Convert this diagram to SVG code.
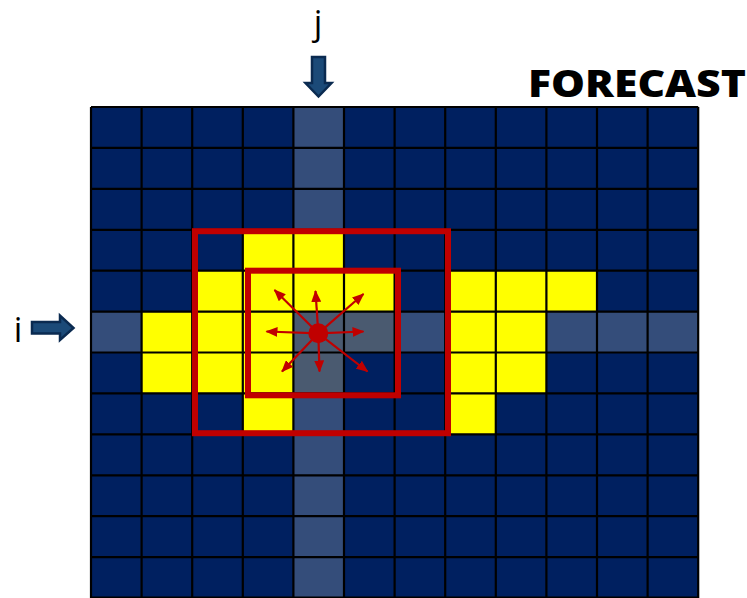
<svg xmlns="http://www.w3.org/2000/svg" width="747" height="598" viewBox="0 0 747 598">
<style>
.nv{fill:#002060}
.hl{fill:#344D7A}
.gr{fill:#4A5A70}
.yl{fill:#FFFF00}
.lbl{font-family:"Open Sans","Liberation Sans",sans-serif;font-size:34px;fill:#000}
.ttl{font-family:"Open Sans","Liberation Sans",sans-serif;font-weight:800;font-size:37px;fill:#000}
.box{fill:none;stroke:#C00000;stroke-width:6}
.ray{stroke:#C00000;stroke-width:2.2;fill:none;marker-end:url(#ah)}
.barr{fill:#1B4A78;stroke:#0A2A50;stroke-width:2.5;stroke-linejoin:miter}
</style>
<defs>
<marker id="ah" viewBox="0 0 12 10" refX="11" refY="5" markerWidth="12" markerHeight="10" markerUnits="userSpaceOnUse" orient="auto">
<path d="M0,0 L12,5 L0,10 Z" fill="#C00000"/>
</marker>
</defs>
<rect width="747" height="598" fill="#fff"/>
<g id="grid">
<rect class="nv" x="91" y="107" width="607.2" height="491"/>
<rect class="hl" x="293.4" y="107" width="50.6" height="122.8"/>
<rect class="hl" x="293.4" y="393.4" width="50.6" height="204.6"/>
<rect class="hl" x="91" y="311.6" width="50.6" height="40.9"/>
<rect class="hl" x="394.6" y="311.6" width="50.6" height="40.9"/>
<rect class="hl" x="546.4" y="311.6" width="151.8" height="40.9"/>
<rect class="gr" x="293.4" y="311.6" width="101.2" height="40.9"/>
<rect class="gr" x="293.4" y="352.5" width="50.6" height="40.9"/>
<rect class="yl" x="242.8" y="229.8" width="101.2" height="40.9"/>
<rect class="yl" x="192.2" y="270.7" width="202.4" height="40.9"/>
<rect class="yl" x="445.2" y="270.7" width="151.8" height="40.9"/>
<rect class="yl" x="141.6" y="311.6" width="151.8" height="81.8"/>
<rect class="yl" x="445.2" y="311.6" width="101.2" height="81.8"/>
<rect class="yl" x="242.8" y="393.4" width="50.6" height="41"/>
<rect class="yl" x="445.2" y="393.4" width="50.6" height="41"/>
<path stroke="#000" stroke-width="2.2" fill="none" d="M91,107V598M141.6,107V598M192.2,107V598M242.8,107V598M293.4,107V598M344,107V598M394.6,107V598M445.2,107V598M495.8,107V598M546.4,107V598M597,107V598M647.6,107V598M698.2,107V598M91,107H698.2M91,147.9H698.2M91,188.8H698.2M91,229.8H698.2M91,270.7H698.2M91,311.6H698.2M91,352.5H698.2M91,393.4H698.2M91,434.4H698.2M91,475.3H698.2M91,516.2H698.2M91,557.1H698.2M91,597.5H698.2"/>
</g>
<g id="outer-window"><rect class="box" x="195" y="231.2" width="253" height="202"/></g>
<g id="inner-window"><rect class="box" x="248" y="270.7" width="150" height="124.6"/></g>
<g id="connectors">
<line class="ray" x1="318.3" y1="333.3" x2="315.5" y2="291"/>
<line class="ray" x1="318.3" y1="333.3" x2="274.5" y2="290"/>
<line class="ray" x1="318.3" y1="333.3" x2="363.5" y2="294"/>
<line class="ray" x1="318.3" y1="333.3" x2="266.5" y2="331.5"/>
<line class="ray" x1="318.3" y1="333.3" x2="363.5" y2="331.5"/>
<line class="ray" x1="318.3" y1="333.3" x2="282" y2="371.5"/>
<line class="ray" x1="318.3" y1="333.3" x2="319.5" y2="371.5"/>
<line class="ray" x1="318.3" y1="333.3" x2="367.5" y2="371.5"/>
</g>
<g id="center"><circle cx="318.3" cy="333.3" r="10" fill="#C00000"/></g>
<g id="j-label">
<text class="lbl" x="318" y="35" text-anchor="middle">j</text>
<polygon class="barr" points="312,57 325,57 325,83 331.5,83 318.5,96.5 305.5,83 312,83"/>
</g>
<g id="i-label">
<text class="lbl" x="18" y="342" text-anchor="middle">i</text>
<polygon class="barr" points="32,322 60,322 60,315.5 73.5,328 60,340 60,333.5 32,333.5"/>
</g>
<g id="title">
<text class="ttl" x="528" y="96.5" textLength="218" lengthAdjust="spacingAndGlyphs">FORECAST</text>
</g>
</svg>
